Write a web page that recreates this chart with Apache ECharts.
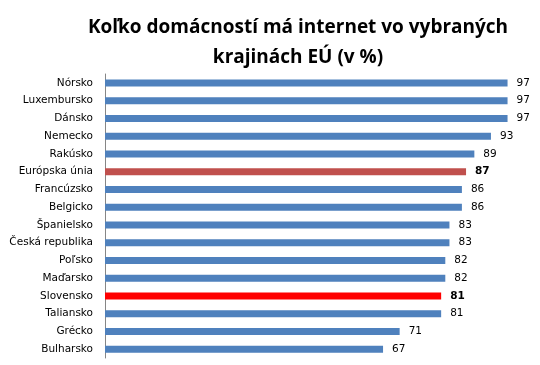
<!DOCTYPE html>
<html><head><meta charset="utf-8">
<script src="https://cdn.jsdelivr.net/npm/echarts@6/dist/echarts.min.js"></script>
<style>html,body{margin:0;padding:0;background:#fff}#c{width:540px;height:365px}</style>
</head><body><div id="c"></div>
<script>
const categories = ["Nórsko","Luxembursko","Dánsko","Nemecko","Rakúsko","Európska únia","Francúzsko","Belgicko","Španielsko","Česká republika","Poľsko","Maďarsko","Slovensko","Taliansko","Grécko","Bulharsko"];
const values = [97,97,97,93,89,87,86,86,83,83,82,82,81,81,71,67];
const highlight = {"Európska únia":"#C0504D","Slovensko":"#FF0000"};
const titleText = "Koľko domácností má internet vo vybraných\nkrajinách EÚ (v %)";

const data = values.map((v,i)=>{
  const c = categories[i];
  const h = highlight[c];
  return {value:v, itemStyle:{color: h || "#4F81BD"}, label:{fontWeight: h ? "bold" : "normal"}};
});
const chart = echarts.init(document.getElementById('c'));
chart.setOption({
  animation:false,
  title:{text:titleText,left:293,top:8,textAlign:'center',textStyle:{fontFamily:'Open Sans',fontWeight:'bold',fontSize:19,lineHeight:30,color:'#000'}},
  grid:{left:105,right:20,top:74,bottom:7},
  xAxis:{type:'value',min:0,max:100,show:false},
  yAxis:{type:'category',data:categories,inverse:true,
    axisLine:{lineStyle:{color:'#868686'}},
    axisTick:{length:4,lineStyle:{color:'#868686'}},
    axisLabel:{fontFamily:'DejaVu Sans',fontSize:10.5,color:'#000',margin:12}},
  series:[{type:'bar',data:data,barWidth:7,
    label:{show:true,position:'right',distance:9,fontFamily:'DejaVu Sans',fontSize:10.5,color:'#000'}}]
});
</script></body></html>
